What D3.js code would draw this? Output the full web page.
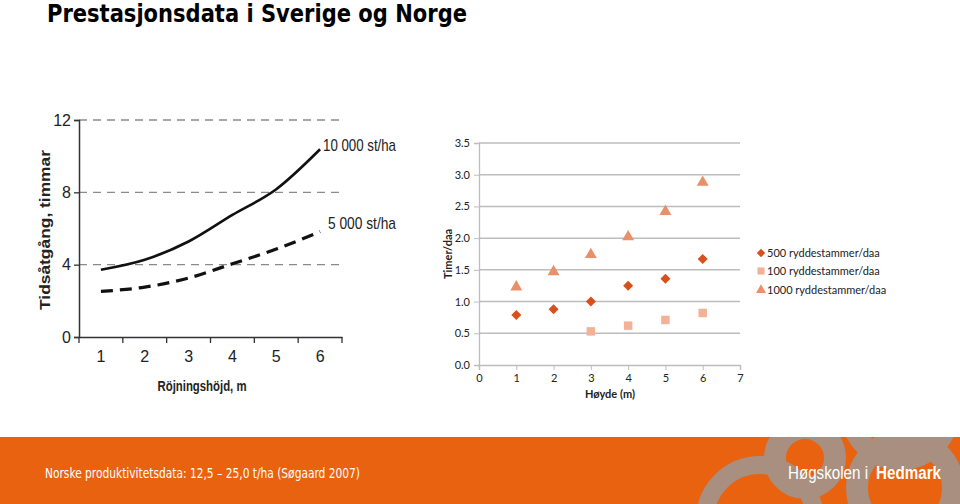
<!DOCTYPE html>
<html><head><meta charset="utf-8">
<script src="https://cdn.jsdelivr.net/npm/d3@7/dist/d3.min.js"></script>
<style>body{margin:0;background:#fff}svg{display:block}</style>
</head><body>
<script>
// ---- Left (Swedish) chart data ----
const heightsSE = [1, 2, 3, 4, 5, 6];
const se10000 = [3.72, 4.27, 5.28, 6.75, 8.17, 10.38];
const se5000 = [2.52, 2.76, 3.26, 4.05, 4.86, 5.83];
const seYTicks = [0, 4, 8, 12];
const seLabels = ["10 000 st/ha", "5 000 st/ha"];

// ---- Right (Norwegian) chart data ----
const xNO500 = [1, 2, 3, 4, 5, 6];
const no500 = [0.79, 0.88, 1.00, 1.25, 1.36, 1.67];
const xNO100 = [3, 4, 5, 6];
const no100 = [0.53, 0.62, 0.71, 0.82];
const xNO1000 = [1, 2, 3, 4, 5, 6];
const no1000 = [1.23, 1.47, 1.74, 2.02, 2.42, 2.88];
const noYTicks = [0, 0.5, 1.0, 1.5, 2.0, 2.5, 3.0, 3.5];
const noXTicks = [0, 1, 2, 3, 4, 5, 6, 7];
const legendNames = ["500 ryddestammer/daa", "100 ryddestammer/daa", "1000 ryddestammer/daa"];

const W = 960, H = 504;
const svg = d3.select("body").append("svg").attr("width", W).attr("height", H);

// Title
svg.append("text").attr("x", 47).attr("y", 22)
  .attr("font-family", "DejaVu Sans, Verdana, sans-serif").attr("font-weight", "bold")
  .attr("font-size", 25).attr("textLength", 420).attr("lengthAdjust", "spacingAndGlyphs")
  .attr("fill", "#000").text("Prestasjonsdata i Sverige og Norge");

// ===== Left chart =====
const narrow = "Liberation Sans, Arial, sans-serif";
const L = svg.append("g");
const xL = d3.scaleBand().domain(heightsSE).range([79, 342]);
const yL = d3.scaleLinear().domain([0, 12]).range([337, 120]);

L.selectAll(".gl").data(seYTicks.filter(d => d > 0)).join("line")
  .attr("x1", 79).attr("x2", 343).attr("y1", d => yL(d)).attr("y2", d => yL(d))
  .attr("stroke", "#8a8a8a").attr("stroke-width", 1.3).attr("stroke-dasharray", "8,6");

const yAxL = L.append("g").attr("transform", "translate(79,0)")
  .call(d3.axisLeft(yL).tickValues(seYTicks).tickSize(5).tickFormat(d3.format("d")));
yAxL.select(".domain").attr("stroke", "#333").attr("stroke-width", 1.5);
yAxL.selectAll(".tick line").attr("stroke", "#333").attr("stroke-width", 1.3);
yAxL.selectAll("text").attr("font-family", narrow).attr("font-size", 16).attr("fill", "#222").attr("x", -8);

const xAxL = L.append("g").attr("transform", "translate(0,337)")
  .call(d3.axisBottom(xL).tickSize(0).tickPadding(14));
xAxL.select(".domain").attr("stroke", "#333").attr("stroke-width", 1.5);
xAxL.selectAll("text").attr("font-family", narrow).attr("font-size", 16).attr("fill", "#222");
const bounds = heightsSE.map(d => xL(d)).concat([xL(6) + xL.bandwidth()]);
L.selectAll(".bt").data(bounds).join("line")
  .attr("x1", d => d).attr("x2", d => d).attr("y1", 337).attr("y2", 343)
  .attr("stroke", "#333").attr("stroke-width", 1.3);

const lineL = d3.line().x((d, i) => xL(heightsSE[i]) + xL.bandwidth() / 2).y(d => yL(d)).curve(d3.curveMonotoneX);
L.append("path").attr("d", lineL(se10000)).attr("fill", "none").attr("stroke", "#111").attr("stroke-width", 2.6);
L.append("path").attr("d", lineL(se5000)).attr("fill", "none").attr("stroke", "#111").attr("stroke-width", 3.2).attr("stroke-dasharray", "12,7");

L.append("text").attr("x", 323).attr("y", yL(se10000[5]) + 2).attr("font-family", narrow).attr("font-size", 17)
  .attr("textLength", 73).attr("lengthAdjust", "spacingAndGlyphs").attr("fill", "#222").text(seLabels[0]);
L.append("text").attr("x", 328).attr("y", yL(se5000[5]) - 3).attr("font-family", narrow).attr("font-size", 17)
  .attr("textLength", 68).attr("lengthAdjust", "spacingAndGlyphs").attr("fill", "#222").text(seLabels[1]);

L.append("text").attr("transform", "translate(50,230) rotate(-90)").attr("text-anchor", "middle")
  .attr("font-family", narrow).attr("font-weight", "bold").attr("font-size", 15).attr("fill", "#222")
  .attr("textLength", 160).attr("lengthAdjust", "spacingAndGlyphs").text("Tidsåtgång, timmar");
L.append("text").attr("x", 202).attr("y", 391).attr("text-anchor", "middle")
  .attr("font-family", narrow).attr("font-weight", "bold").attr("font-size", 15).attr("fill", "#222")
  .attr("textLength", 89).attr("lengthAdjust", "spacingAndGlyphs").text("Röjningshöjd, m");

// ===== Right chart =====
const font = "Lato, Carlito, Calibri, sans-serif";
const R = svg.append("g");
const xR = d3.scaleLinear().domain([0, 7]).range([479, 740]);
const yR = d3.scaleLinear().domain([0, 3.5]).range([365, 143]);

R.selectAll(".gr").data(noYTicks.filter(d => d > 0)).join("line")
  .attr("x1", 479).attr("x2", 740).attr("y1", d => yR(d)).attr("y2", d => yR(d))
  .attr("stroke", "#bdbdbd").attr("stroke-width", 1.5);

const yAxR = R.append("g").attr("transform", "translate(479,0)")
  .call(d3.axisLeft(yR).tickValues(noYTicks).tickSize(5).tickFormat(d3.format(".1f")));
yAxR.select(".domain").attr("stroke", "#bdbdbd").attr("stroke-width", 1.3);
yAxR.selectAll(".tick line").attr("stroke", "#bdbdbd");
yAxR.selectAll("text").attr("font-family", font).attr("font-size", 11).attr("fill", "#222").attr("x", -9);

const xAxR = R.append("g").attr("transform", "translate(0,365)")
  .call(d3.axisBottom(xR).tickValues(noXTicks).tickSize(5).tickFormat(d3.format("d")));
xAxR.select(".domain").attr("stroke", "#bdbdbd").attr("stroke-width", 1.5);
xAxR.selectAll(".tick line").attr("stroke", "#bdbdbd");
xAxR.selectAll("text").attr("font-family", font).attr("font-size", 11).attr("fill", "#222").attr("y", 9);

R.append("text").attr("transform", "translate(452,254) rotate(-90)").attr("text-anchor", "middle")
  .attr("font-family", font).attr("font-weight", "bold").attr("font-size", 11).attr("fill", "#222").text("Timer/daa");
R.append("text").attr("x", 610).attr("y", 398).attr("text-anchor", "middle")
  .attr("font-family", font).attr("font-weight", "bold").attr("font-size", 11).attr("fill", "#222").text("Høyde (m)");

const cDia = "#d9501c", cSq = "#f3b198", cTri = "#e8906a";
const sym = (type, size) => d3.symbol().type(type).size(size)();
const series = [
  {xs: xNO500, ys: no500, type: d3.symbolSquare, size: 50, rot: 45, color: cDia},
  {xs: xNO100, ys: no100, type: d3.symbolSquare, size: 72, rot: 0, color: cSq},
  {xs: xNO1000, ys: no1000, type: d3.symbolTriangle, size: 62, rot: 0, color: cTri}
];
series.forEach(s => {
  R.selectAll(null).data(s.ys).join("path")
    .attr("transform", (d, i) => `translate(${xR(s.xs[i])},${yR(d)}) rotate(${s.rot})`)
    .attr("d", sym(s.type, s.size)).attr("fill", s.color);
});

const legY = [253, 271, 290];
series.forEach((s, i) => {
  R.append("path").attr("transform", `translate(761,${legY[i]}) rotate(${s.rot})`).attr("d", sym(s.type, s.size * 0.7)).attr("fill", s.color);
  R.append("text").attr("x", 767).attr("y", legY[i] + 4).attr("font-family", font).attr("font-size", 11)
    .attr("fill", "#222").text(legendNames[i]);
});

// ===== Bottom band =====
const band = svg.append("g");
const clip = svg.append("defs").append("clipPath").attr("id", "bandclip");
clip.append("rect").attr("x", 0).attr("y", 437).attr("width", W).attr("height", H - 437);
band.append("rect").attr("x", 0).attr("y", 437).attr("width", W).attr("height", H - 437).attr("fill", "#e8620f");
const sw = band.append("g").attr("clip-path", "url(#bandclip)").attr("fill", "none").attr("stroke", "#a88f7f");
sw.append("circle").attr("cx", 805).attr("cy", 458).attr("r", 30).attr("stroke-width", 22);
sw.append("circle").attr("cx", 760).attr("cy", 520).attr("r", 55).attr("stroke-width", 18);
sw.append("circle").attr("cx", 905).attr("cy", 488).attr("r", 48).attr("stroke-width", 22);
sw.append("circle").attr("cx", 900).attr("cy", 410).attr("r", 50).attr("stroke-width", 20);

band.append("text").attr("x", 45).attr("y", 478).attr("font-family", "DejaVu Sans, Verdana, sans-serif")
  .attr("font-size", 14).attr("textLength", 315).attr("lengthAdjust", "spacingAndGlyphs")
  .attr("fill", "#fff").text("Norske produktivitetsdata: 12,5 – 25,0 t/ha (Søgaard 2007)");
band.append("text").attr("x", 788).attr("y", 479)
  .attr("font-family", narrow).attr("font-size", 18).attr("fill", "#fff")
  .attr("textLength", 80).attr("lengthAdjust", "spacingAndGlyphs").text("Høgskolen i");
band.append("text").attr("x", 876).attr("y", 479)
  .attr("font-family", narrow).attr("font-size", 18).attr("font-weight", "bold").attr("fill", "#fff")
  .attr("textLength", 65).attr("lengthAdjust", "spacingAndGlyphs").text("Hedmark");
</script>
</body></html>
